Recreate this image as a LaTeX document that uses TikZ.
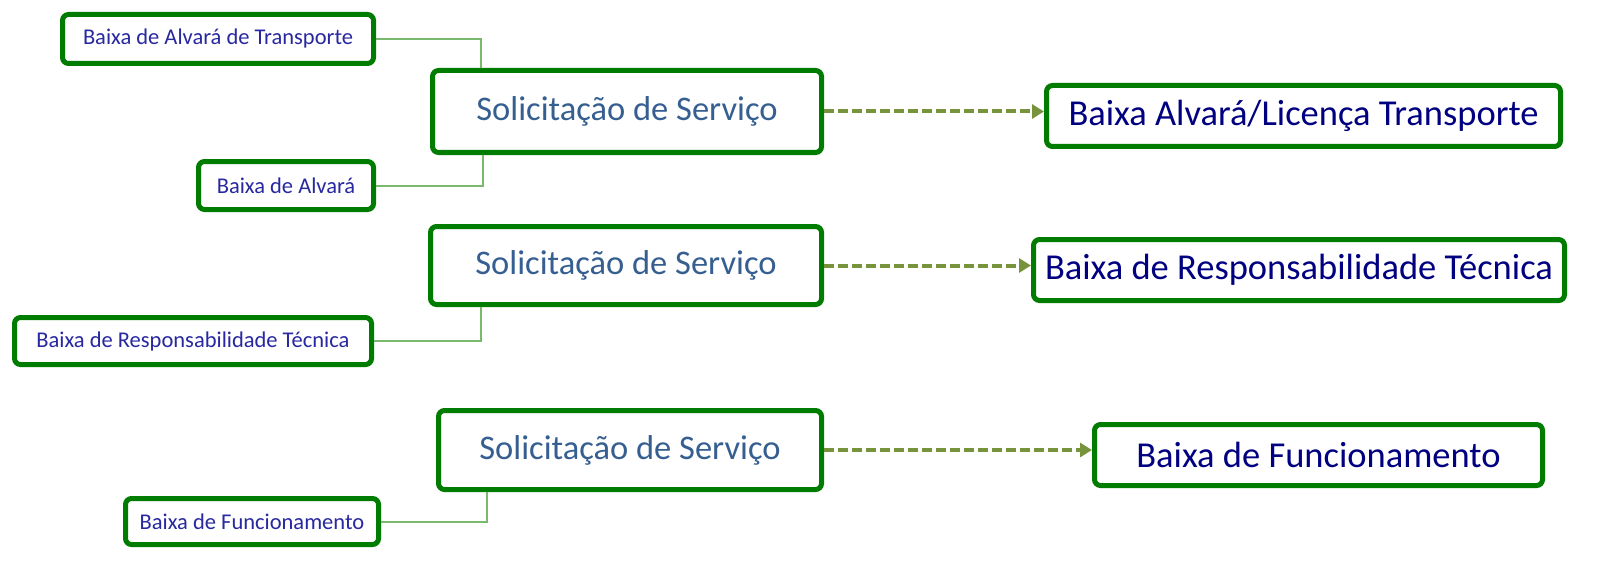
\documentclass[tikz,border=0pt]{standalone}
\usepackage{fontspec}
\setmainfont{Carlito}
\usetikzlibrary{arrows.meta}

\definecolor{boxgreen}{RGB}{0,125,0}
\definecolor{linkgreen}{RGB}{120,185,110}
\definecolor{flowolive}{RGB}{119,147,60}
\definecolor{leafblue}{RGB}{40,40,160}
\definecolor{reqblue}{RGB}{54,95,145}
\definecolor{resnavy}{RGB}{0,0,128}

\tikzset{
  box/.style={draw=boxgreen, line width=5pt, rounded corners=6pt, fill=white, inner sep=0pt},
  leaf/.style={box, font=\fontsize{22.5}{24}\selectfont, text=leafblue},
  request/.style={box, font=\fontsize{34.5}{36}\selectfont, text=reqblue},
  result/.style={box, font=\fontsize{36.5}{38}\selectfont, text=resnavy},
  link/.style={draw=linkgreen, line width=2pt},
  flow/.style={draw=flowolive, line width=4pt, dash pattern=on 10pt off 4pt, -{Triangle[length=12pt, width=14pt]}}
}

\begin{document}
\begin{tikzpicture}[x=1pt, y=-1pt]

    \useasboundingbox (0,0) rectangle (1622,567);

    % Nodes

    \node[request, minimum width=389pt, minimum height=82pt] (req1) at (627,111.5) {Solicitação de Serviço};
    \node[request, minimum width=391pt, minimum height=78pt] (req2) at (626,265.5) {Solicitação de Serviço};
    \node[request, minimum width=383pt, minimum height=79pt] (req3) at (630,450) {Solicitação de Serviço};

    \node[result, minimum width=514pt, minimum height=61pt] (res1) at (1303.5,116) {Baixa Alvará/Licença Transporte};
    \node[result, minimum width=531pt, minimum height=61pt] (res2) at (1299,270) {Baixa de Responsabilidade Técnica};
    \node[result, minimum width=448pt, minimum height=61pt] (res3) at (1318.5,455) {Baixa de Funcionamento};

    \node[leaf, minimum width=311pt, minimum height=49pt] (leaf1) at (218,39) {Baixa de Alvará de Transporte};
    \node[leaf, minimum width=175pt, minimum height=48pt] (leaf2) at (286,185.5) {Baixa de Alvará};
    \node[leaf, minimum width=357pt, minimum height=47pt] (leaf3) at (193,341) {Baixa de Responsabilidade Técnica};
    \node[leaf, minimum width=253pt, minimum height=46pt] (leaf4) at (252,521.5) {Baixa de Funcionamento};

    % Links

    \draw[link] (leaf1.east) -| ([xshift=51pt]req1.north west);
    \draw[link] (leaf2.east) -| ([xshift=53pt]req1.south west);
    \draw[link] (leaf3.east) -| ([xshift=53pt]req2.south west);
    \draw[link] (leaf4.east) -| ([xshift=51pt]req3.south west);

    % Flows

    \draw[flow] (req1.east) -- (req1.east -| res1.west);
    \draw[flow] (req2.east) -- (req2.east -| res2.west);
    \draw[flow] (req3.east) -- (req3.east -| res3.west);

\end{tikzpicture}
\end{document}
